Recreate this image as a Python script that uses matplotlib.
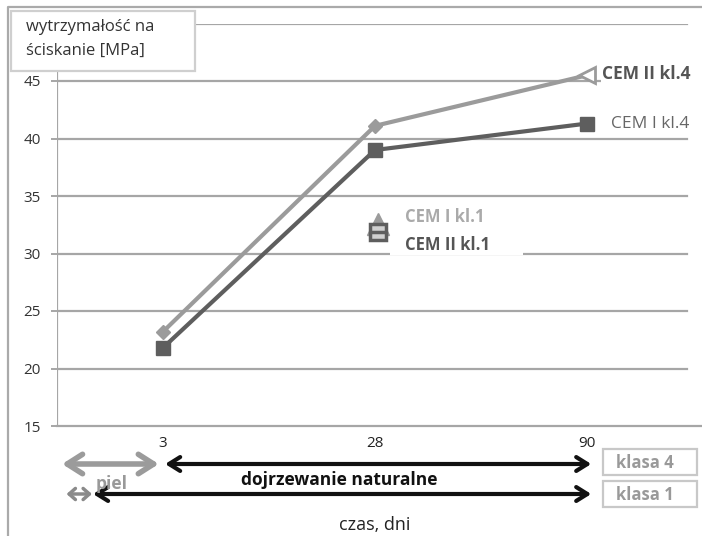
import matplotlib.pyplot as plt
from matplotlib.lines import Line2D
from matplotlib.patches import Rectangle

plt.rcParams['font.family'] = ['Open Sans', 'DejaVu Sans']

# dane
dni = ['3', '28', '90']
cem_ii_kl4 = [23.2, 41.1, 45.5]
cem_i_kl4 = [21.8, 39.0, 41.3]
y_ticks = [15, 20, 25, 30, 35, 40, 45, 50]

jasny = '#9b9b9b'
ciemny = '#5e5e5e'
siatka = '#a6a6a6'

fig = plt.figure(figsize=(7.02, 5.36), dpi=100)
ax = fig.add_axes([57 / 702, 1 - 426 / 536, 636 / 702, 402.5 / 536])

x = list(range(len(dni)))
ax.set_xlim(-0.5, 2.5)
ax.set_ylim(15, 50)

# siatka
for v in y_ticks[1:]:
    ax.axhline(v, color=siatka, lw=1.6, zorder=1, xmax=0.99)
ax.axhline(15, color=siatka, lw=1.6, zorder=1, xmax=1.02, clip_on=False)
for s in ax.spines.values():
    s.set_visible(False)
ax.axvline(-0.5, color=siatka, lw=1.6, zorder=1)

ax.set_yticks(y_ticks[:-1])
ax.tick_params(axis='y', length=4.5, width=1.4, color=siatka, pad=7,
               labelsize=11, labelcolor='#333333')
ax.set_xticks(x)
ax.set_xticklabels(dni)
ax.tick_params(axis='x', length=0, pad=7, labelsize=11, labelcolor='#222222')

# serie
ax.plot(x, cem_ii_kl4, color=jasny, lw=3, zorder=3)
ax.plot(x[:2], cem_ii_kl4[:2], 'D', color=jasny, ms=7, zorder=4)
ax.plot(x[2:], cem_ii_kl4[2:], '<', mfc='white', mec=jasny, mew=2, ms=12, zorder=4)
ax.plot(x, cem_i_kl4, color=ciemny, lw=3, zorder=3, marker='s', ms=10)

# etykiety serii
ax.annotate('CEM II kl.4', (x[2], cem_ii_kl4[2]), xytext=(11, 1), textcoords='offset points',
            va='center', ha='left', fontsize=12.5, fontweight='bold', color='#555555',
            bbox=dict(fc='white', ec='none', pad=1), zorder=5, annotation_clip=False)
ax.annotate('CEM I kl.4', (x[2], cem_i_kl4[2]), xytext=(17, 0), textcoords='offset points',
            va='center', ha='left', fontsize=12.5, color='#666666', zorder=5,
            annotation_clip=False)

# legenda kl.1
ax.add_patch(Rectangle(((390 - 57) / 636, 0.425), 133 / 636, 0.135,
                       transform=ax.transAxes, fc='white', ec='none', zorder=2))
lx, ly = (378 - 57) / 636, (426 - 228) / 402.5
ax.plot([lx], [ly + 0.01], '^', color=jasny, ms=16, transform=ax.transAxes, zorder=5)
ax.plot([lx], [ly - 0.01], 's', mfc='#d0d0d0', mec=ciemny, mew=2.5, ms=12,
        transform=ax.transAxes, zorder=6)
ax.plot([lx], [ly - 0.01], '_', color=ciemny, mew=2.5, ms=12, transform=ax.transAxes, zorder=7)
ax.text((405 - 57) / 636, (426 - 217) / 402.5, 'CEM I kl.1', transform=ax.transAxes,
        fontsize=12, fontweight='bold', color='#aaaaaa', va='center', zorder=5)
ax.text((405 - 57) / 636, (426 - 245) / 402.5, 'CEM II kl.1', transform=ax.transAxes,
        fontsize=12, fontweight='bold', color='#555555', va='center', zorder=5)

# strzalki pod osia
tr = ax.get_xaxis_transform()
rzad1 = -38 / 402.5
rzad2 = -68 / 402.5
strzalki = [
    (-0.476, -0.02, rzad1, jasny, 4, 'head_length=1.1,head_width=0.7'),
    (0.01, 2.02, rzad1, '#111111', 3, 'head_length=0.8,head_width=0.5'),
    (-0.455, -0.335, rzad2, '#8a8a8a', 2.5, 'head_length=0.45,head_width=0.4'),
    (-0.33, 2.02, rzad2, '#111111', 3, 'head_length=0.8,head_width=0.5'),
]
for x0, x1, yy, c, w, hs in strzalki:
    ax.annotate('', xy=(x1, yy), xytext=(x0, yy), xycoords=tr, textcoords=tr,
                arrowprops=dict(arrowstyle='<->,' + hs, color=c, lw=w,
                                shrinkA=0, shrinkB=0), annotation_clip=False)

ax.text(-0.24, -58 / 402.5, 'piel', transform=tr, ha='center', va='center',
        fontsize=12.5, fontweight='bold', color='#999999')
ax.text(0.83, -54 / 402.5, 'dojrzewanie naturalne', transform=tr, ha='center', va='center',
        fontsize=12.5, fontweight='bold', color='#111111')
ax.text(1.0, -99 / 402.5, 'czas, dni', transform=tr, ha='center', va='center',
        fontsize=13, color='#222222')

# ramki klasa
for y0, lab in [(449, 'klasa 4'), (481, 'klasa 1')]:
    fig.patches.append(Rectangle((603 / 702, 1 - (y0 + 26) / 536), 94 / 702, 26 / 536,
                                 transform=fig.transFigure, fc='white', ec='#c8c8c8', lw=1.6))
    fig.text(645 / 702, 1 - (y0 + 14) / 536, lab, ha='center', va='center',
             fontsize=12, fontweight='bold', color='#999999')

# tytul osi Y
fig.patches.append(Rectangle((11 / 702, 1 - 71 / 536), 184 / 702, 60 / 536,
                             transform=fig.transFigure, fc='white', ec='#cfcfcf', lw=1.6,
                             zorder=10))
fig.text(26 / 702, 1 - 27 / 536, 'wytrzymałość na', fontsize=12, color='#333333',
         va='center', zorder=11)
fig.text(26 / 702, 1 - 51 / 536, 'ściskanie [MPa]', fontsize=12, color='#333333',
         va='center', zorder=11)

# ramka wykresu
fig.lines.append(Line2D([8 / 702, 8 / 702, 1], [0, 1 - 7 / 536, 1 - 7 / 536],
                        transform=fig.transFigure, color='#aaaaaa', lw=1.6))

fig.savefig('out.png', dpi=100)
